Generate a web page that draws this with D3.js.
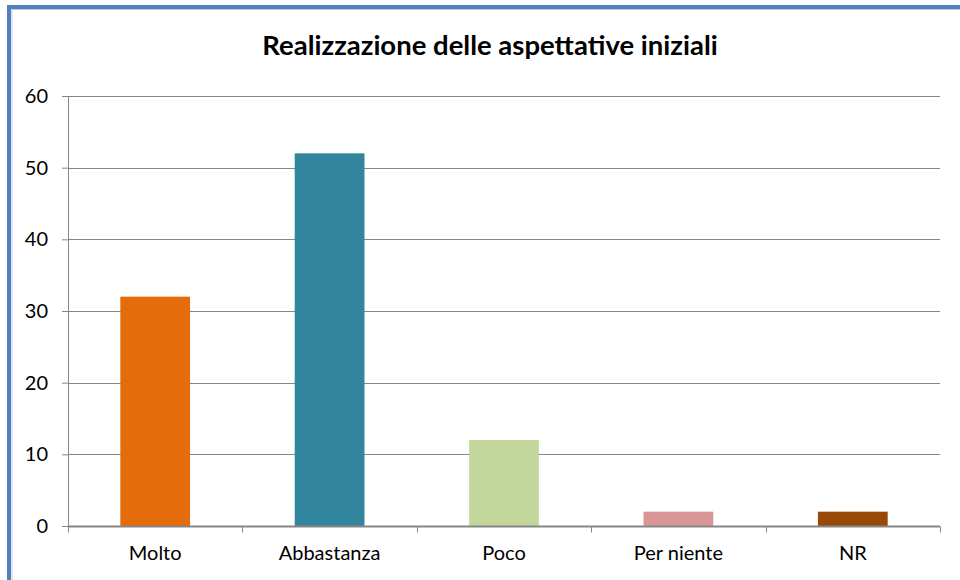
<!DOCTYPE html>
<html lang="it">
<head>
    <meta charset="UTF-8">
    <script src="https://d3js.org/d3.v7.min.js"></script>
    <style>
        body { margin: 0; background: #fff; }
        svg { display: block; }
    </style>
    <title>Realizzazione delle aspettative iniziali</title>
</head>
<body>
    <div id="chart"></div>
    <script>
        // data
        var categories = ["Molto", "Abbastanza", "Poco", "Per niente", "NR"];
        var values = [32, 52, 12, 2, 2];
        var barColors = ["#e46c0a", "#31859c", "#c3d69b", "#d99694", "#984807"];
        var yTicks = [0, 10, 20, 30, 40, 50, 60];

        var W = 960, H = 580;
        var margin = { top: 96, right: 20, bottom: 54, left: 68 };
        var width = W - margin.left - margin.right;
        var height = H - margin.top - margin.bottom;

        var svg = d3.select("#chart").append("svg")
            .attr("width", W)
            .attr("height", H);

        // chart frame (only top and left edges are visible)
        svg.append("rect")
            .attr("x", 9).attr("y", 7)
            .attr("width", 1000).attr("height", 700)
            .attr("fill", "none")
            .attr("stroke", "#4f81bd")
            .attr("stroke-width", 4);
        svg.append("rect")
            .attr("x", 12).attr("y", 9.5)
            .attr("width", 1000).attr("height", 700)
            .attr("fill", "none")
            .attr("stroke", "#b9cde5")
            .attr("stroke-width", 1);

        svg.append("text")
            .attr("x", 490)
            .attr("y", 55)
            .attr("text-anchor", "middle")
            .style("font-family", "Lato, 'Open Sans', sans-serif")
            .style("font-weight", "bold")
            .style("font-size", "27.5px")
            .style("fill", "#000")
            .text("Realizzazione delle aspettative iniziali");

        var g = svg.append("g")
            .attr("transform", "translate(" + margin.left + "," + margin.top + ")");

        var x = d3.scaleBand()
            .domain(categories)
            .range([0, width]);

        var y = d3.scaleLinear()
            .domain([0, 60])
            .range([height, 0]);

        // gridlines
        g.append("g")
            .selectAll("line")
            .data(yTicks.slice(1))
            .enter()
            .append("line")
            .attr("x1", 0)
            .attr("x2", width)
            .attr("y1", function (d) { return Math.round(y(d)) + 0.5; })
            .attr("y2", function (d) { return Math.round(y(d)) + 0.5; })
            .attr("stroke", "#868686")
            .attr("stroke-width", 1);

        // bars: Excel gap width 150%
        var bw = x.bandwidth() / 2.5;
        g.append("g")
            .selectAll("rect")
            .data(values)
            .enter()
            .append("rect")
            .attr("x", function (d, i) { return x(categories[i]) + (x.bandwidth() - bw) / 2; })
            .attr("y", function (d) { return y(d); })
            .attr("width", bw)
            .attr("height", function (d) { return y(0) - y(d); })
            .attr("fill", function (d, i) { return barColors[i]; });

        // y axis
        var yAxis = g.append("g")
            .call(d3.axisLeft(y).tickValues(yTicks).tickSize(6).tickPadding(14));
        yAxis.select(".domain").attr("stroke", "#868686").attr("d", "M0.5," + y(60) + "V" + height);
        yAxis.selectAll(".tick line").attr("stroke", "#868686");
        yAxis.selectAll("text")
            .style("font-family", "Lato, 'Open Sans', sans-serif")
            .style("font-size", "20px")
            .style("fill", "#000");

        // x axis line and category dividers
        var xa = g.append("g").attr("transform", "translate(0," + (Math.round(height) + 0.5) + ")");
        xa.append("line")
            .attr("x1", 0).attr("x2", width)
            .attr("stroke", "#868686")
            .attr("stroke-width", 2);
        xa.selectAll("line.div")
            .data(d3.range(categories.length + 1))
            .enter()
            .append("line")
            .attr("class", "div")
            .attr("x1", function (i) { return Math.round(i * x.step()) + 0.5; })
            .attr("x2", function (i) { return Math.round(i * x.step()) + 0.5; })
            .attr("y1", 0).attr("y2", 6)
            .attr("stroke", "#868686");
        xa.selectAll("text")
            .data(categories)
            .enter()
            .append("text")
            .attr("x", function (d) { return x(d) + x.bandwidth() / 2; })
            .attr("y", 33)
            .attr("text-anchor", "middle")
            .style("font-family", "Lato, 'Open Sans', sans-serif")
            .style("font-size", "20px")
            .style("fill", "#000")
            .text(function (d) { return d; });
    </script>
</body>
</html>
